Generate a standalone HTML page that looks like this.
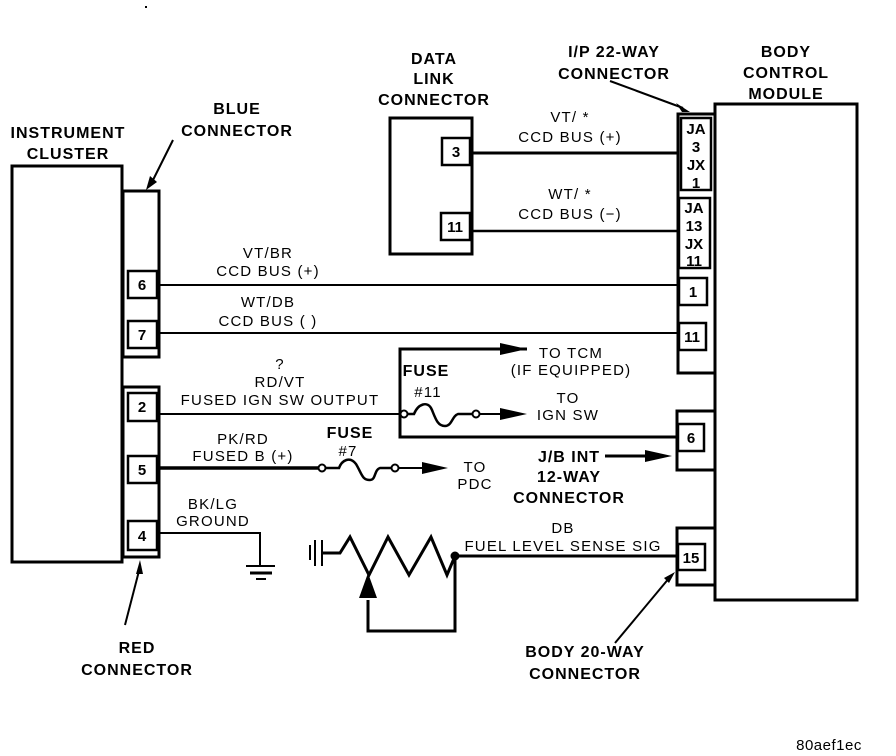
<!DOCTYPE html>
<html><head><meta charset="utf-8"><style>
html,body{margin:0;padding:0;background:#fff;}
svg{display:block;}
text{font-family:"Liberation Sans",sans-serif;fill:#000;}
.b{font-weight:bold;font-size:16px;letter-spacing:1px;}
.n{font-size:15px;letter-spacing:1.2px;}
.p{font-weight:bold;font-size:15px;}
</style></head><body>
<svg width="896" height="756" viewBox="0 0 896 756" xmlns="http://www.w3.org/2000/svg">
<rect x="145" y="6" width="2" height="2" fill="#000"/>
<g fill="none" stroke="#000" stroke-width="3">
<rect x="12" y="166" width="110" height="396"/>
<rect x="123" y="191" width="36" height="166"/>
<rect x="123" y="387" width="36" height="170"/>
<rect x="128" y="271" width="29" height="27" stroke-width="2.5"/>
<rect x="128" y="321" width="29" height="27" stroke-width="2.5"/>
<rect x="128" y="393" width="29" height="28" stroke-width="2.5"/>
<rect x="128" y="456" width="29" height="27" stroke-width="2.5"/>
<rect x="128" y="521" width="29" height="29" stroke-width="2.5"/>
<rect x="390" y="118" width="82" height="136"/>
<rect x="442" y="138" width="28" height="27" stroke-width="2.5"/>
<rect x="441" y="213" width="29" height="27" stroke-width="2.5"/>
<rect x="715" y="104" width="142" height="496"/>
<rect x="678" y="114" width="37" height="259"/>
<rect x="681" y="118" width="30" height="72" stroke-width="2.5"/>
<rect x="679" y="198" width="31" height="70" stroke-width="2.5"/>
<rect x="679" y="278" width="28" height="27" stroke-width="2.5"/>
<rect x="679" y="323" width="27" height="27" stroke-width="2.5"/>
<rect x="677" y="411" width="38" height="59"/>
<rect x="678" y="424" width="26" height="27" stroke-width="2.5"/>
<rect x="677" y="528" width="38" height="57"/>
<rect x="678" y="544" width="27" height="26" stroke-width="2.5"/>
</g>
<g stroke="#000" fill="none">
<line x1="472" y1="153" x2="678" y2="153" stroke-width="3"/>
<line x1="472" y1="231" x2="678" y2="231" stroke-width="2.5"/>
<line x1="159" y1="285" x2="678" y2="285" stroke-width="2"/>
<line x1="159" y1="333" x2="678" y2="333" stroke-width="2"/>
<line x1="159" y1="414" x2="401" y2="414" stroke-width="2"/>
<polyline points="527,349 400,349 400,437 678,437" stroke-width="3"/>
<line x1="159" y1="468" x2="319" y2="468" stroke-width="3.5"/>
<polyline points="159,533 260,533 260,565" stroke-width="2"/>
<line x1="246" y1="566" x2="275" y2="566" stroke-width="2"/>
<line x1="250" y1="573" x2="272" y2="573" stroke-width="3"/>
<line x1="256" y1="579" x2="266" y2="579" stroke-width="2"/>
<circle cx="404" cy="414" r="3.5" stroke-width="2"/>
<path d="M407,414 L414,414 C418,404 428,400 432,410 C436,420 438,426 445,426 C452,426 452,416 458,414 L473,414" stroke-width="2.5"/>
<circle cx="476" cy="414" r="3.5" stroke-width="2"/>
<line x1="480" y1="414" x2="505" y2="414" stroke-width="2"/>
<circle cx="322" cy="468" r="3.5" stroke-width="2"/>
<path d="M325,468 L339,468 C342,460 350,456 356,464 C362,474 362,480 370,480 C376,480 374,470 380,468 L392,468" stroke-width="2.5"/>
<circle cx="395" cy="468" r="3.5" stroke-width="2"/>
<line x1="399" y1="468" x2="425" y2="468" stroke-width="2"/>
<line x1="605" y1="456" x2="650" y2="456" stroke-width="3"/>
<line x1="310" y1="545" x2="310" y2="560" stroke-width="2"/>
<line x1="315" y1="540" x2="315" y2="566" stroke-width="2"/>
<line x1="322" y1="540" x2="322" y2="566" stroke-width="2"/>
<polyline points="322,553 340,553 350,537 369,575 388,537 409,575 431,537 447,575 455,556 677,556" stroke-width="3"/>
<circle cx="455" cy="556" r="4" fill="#000"/>
<polyline points="368,600 368,631 455,631 455,556" stroke-width="3"/>
<line x1="173" y1="140" x2="152" y2="182" stroke-width="2"/>
<line x1="610" y1="81" x2="683" y2="108" stroke-width="2"/>
<line x1="125" y1="625" x2="140" y2="567" stroke-width="2"/>
<line x1="615" y1="643" x2="670" y2="577" stroke-width="2"/>
</g>
<g fill="#000">
<polygon points="500,343 527,349 500,355"/>
<polygon points="500,408 527,414 500,420"/>
<polygon points="422,462 448,468 422,474"/>
<polygon points="645,450 672,456 645,462"/>
<polygon points="359,598 368,573 377,598"/>
<polygon points="146,190 150,176 157,182"/>
<polygon points="690,112 676,103 682,112"/>
<polygon points="140,560 136,574 143,574"/>
<polygon points="675,572 664,578 669,583"/>
</g>
<g class="p" text-anchor="middle">
<text x="142" y="290">6</text><text x="142" y="340">7</text>
<text x="142" y="412">2</text><text x="142" y="475">5</text><text x="142" y="541">4</text>
<text x="456" y="157">3</text><text x="455" y="232">11</text>
<text x="696" y="134">JA</text><text x="696" y="152">3</text><text x="696" y="170">JX</text><text x="696" y="188">1</text>
<text x="694" y="213">JA</text><text x="694" y="231">13</text><text x="694" y="249">JX</text><text x="694" y="266">11</text>
<text x="693" y="297">1</text><text x="692" y="342">11</text>
<text x="691" y="443">6</text><text x="691" y="563">15</text>
</g>
<g class="b" text-anchor="middle">
<text x="68" y="138">INSTRUMENT</text><text x="68" y="159">CLUSTER</text>
<text x="237" y="114">BLUE</text><text x="237" y="136">CONNECTOR</text>
<text x="434" y="64">DATA</text><text x="434" y="84">LINK</text><text x="434" y="105">CONNECTOR</text>
<text x="614" y="57">I/P 22-WAY</text><text x="614" y="79">CONNECTOR</text>
<text x="786" y="57">BODY</text><text x="786" y="78">CONTROL</text><text x="786" y="99">MODULE</text>
<text x="426" y="376">FUSE</text>
<text x="350" y="438">FUSE</text>
<text x="569" y="462">J/B INT</text><text x="569" y="482">12-WAY</text><text x="569" y="503">CONNECTOR</text>
<text x="137" y="653">RED</text><text x="137" y="675">CONNECTOR</text>
<text x="585" y="657">BODY 20-WAY</text><text x="585" y="679">CONNECTOR</text>
</g>
<g class="n" text-anchor="middle">
<text x="570" y="122">VT/ *</text><text x="570" y="142">CCD BUS (+)</text>
<text x="570" y="199">WT/ *</text><text x="570" y="219">CCD BUS (−)</text>
<text x="268" y="258">VT/BR</text><text x="268" y="276">CCD BUS (+)</text>
<text x="268" y="307">WT/DB</text><text x="268" y="326">CCD BUS ( )</text>
<text x="280" y="369">?</text><text x="280" y="387">RD/VT</text><text x="280" y="405">FUSED IGN SW OUTPUT</text>
<text x="428" y="397">#11</text>
<text x="243" y="444">PK/RD</text><text x="243" y="461">FUSED B (+)</text>
<text x="348" y="456">#7</text>
<text x="213" y="509">BK/LG</text><text x="213" y="526">GROUND</text>
<text x="571" y="358">TO TCM</text><text x="571" y="375">(IF EQUIPPED)</text>
<text x="568" y="403">TO</text><text x="568" y="420">IGN SW</text>
<text x="475" y="472">TO</text><text x="475" y="489">PDC</text>
<text x="563" y="533">DB</text><text x="563" y="551">FUEL LEVEL SENSE SIG</text>
<text x="829" y="750" style="font-size:15px;letter-spacing:0.5px">80aef1ec</text>
</g>
</svg>
</body></html>
